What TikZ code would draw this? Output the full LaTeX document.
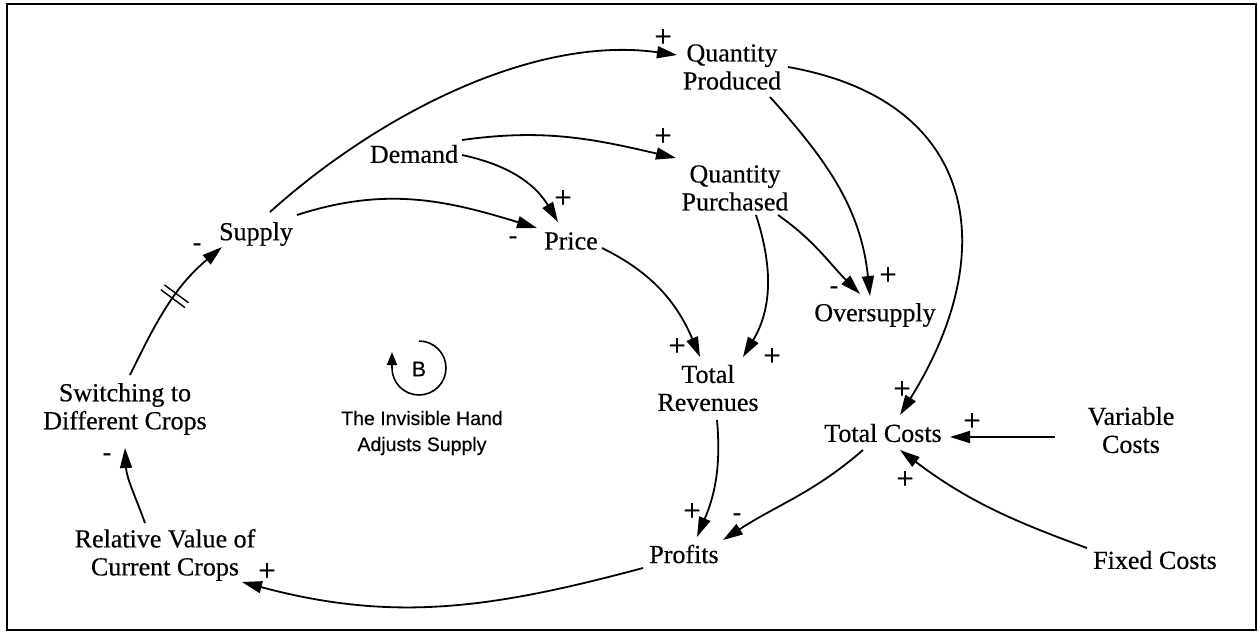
\documentclass[tikz,border=0pt]{standalone}
\usepackage{fontspec}
\setmainfont{Liberation Serif}[FakeBold=0.4]
\newfontfamily\handfont{Liberation Sans}[FakeBold=0.4]
\usetikzlibrary{arrows.meta,decorations.markings}
\begin{document}
\begin{tikzpicture}[x=1pt,y=1pt,
  var/.style={font=\fontsize{26}{28}\selectfont, align=center, inner sep=0pt},
  sgn/.style={font=\fontsize{26}{28}\selectfont, inner sep=0pt},
  psgn/.style={font=\fontsize{31}{32}\selectfont, inner sep=0pt},
  link/.style={line width=1.8pt, -{Triangle[length=20pt,width=12pt]}},
  delaymark/.style={postaction={decorate}, decoration={markings,
     mark=at position 0.57 with {\draw[line width=1.4pt,-] (-3,-15) -- (-3,15) (3,-15) -- (3,15);}}}
]
\useasboundingbox (0,0) rectangle (1258,-632);
\draw[line width=1.3pt] (7,-4) rectangle (1256,-630);

% variables
\node[var] (supply)  at (256,-234) {Supply};
\node[var] (demand)  at (414,-154) {Demand};
\node[var] (price)   at (571,-241) {Price};
\node[var] (qprod)   at (732,-67)  {Quantity\\Produced};
\node[var] (qpur)    at (735,-188) {Quantity\\Purchased};
\node[var] (over)    at (875,-315) {Oversupply};
\node[var] (trev)    at (708,-388) {Total\\Revenues};
\node[var] (tcost)   at (883,-433) {Total Costs};
\node[var] (varc)    at (1131,-430) {Variable\\Costs};
\node[var] (fixc)    at (1155,-560) {Fixed Costs};
\node[var] (profits) at (684,-554) {Profits};
\node[var] (relv)    at (165,-555) {Relative Value of\\Current Crops};
\node[var] (switch)  at (125,-409) {Switching to\\Different Crops};

% loop marker
\node[inner sep=0pt, font=\handfont\fontsize{21}{24}\selectfont] (loopb) at (419,-369) {B};
\node[inner sep=0pt, align=center, font=\handfont\fontsize{19.5}{26}\selectfont] (hand) at (422,-433) {The Invisible Hand\\Adjusts Supply};
\draw[line width=1.6pt, -{Triangle[length=13pt,width=10pt]}]
  ([yshift=28]loopb.center) arc[start angle=90, end angle=-180, radius=27] -- ++(0,16);

% links
\draw[link] ([shift={(14,22)}]supply.center) to[out=42,in=172,looseness=0.85] ([shift={(-55,12)}]qprod.center);
\draw[link] ([shift={(41,19)}]supply.center) to[out=18,in=163] ([shift={(-34,13)}]price.center);
\draw[link] ([shift={(48,-1)}]demand.center) to[out=-12,in=121] ([shift={(-13,19)}]price.center);
\draw[link] ([shift={(48,14)}]demand.center) to[out=8,in=167] ([shift={(-59,30)}]qpur.center);
\draw[link] ([shift={(38,-30)}]qprod.center) to[out=-48,in=96] ([shift={(-5,19)}]over.center);
\draw[link] ([shift={(43,-27)}]qpur.center) to[out=-35,in=135] ([shift={(-15,21)}]over.center);
\draw[link] ([shift={(56,0)}]qprod.center) to[out=-10,in=58,looseness=1.35] ([shift={(17,18)}]tcost.center);
\draw[link] ([shift={(31,-7)}]price.center) to[out=-26,in=113] ([shift={(-8,31)}]trev.center);
\draw[link] ([shift={(21,-27)}]qpur.center) to[out=-72,in=59] ([shift={(35,31)}]trev.center);
\draw[link] ([shift={(9,-32)}]trev.center) to[out=-85,in=67] ([shift={(13,17)}]profits.center);
\draw[link] ([shift={(-20,-17)}]tcost.center) to[out=-139,in=33] ([shift={(39,14)}]profits.center);
\draw[link] ([shift={(-76,-7)}]varc.center) -- ([shift={(67,-4)}]tcost.center);
\draw[link] ([shift={(-68,12)}]fixc.center) to[out=160,in=-37] ([shift={(17,-17)}]tcost.center);
\draw[link] ([shift={(-41,-14)}]profits.center) to[out=-165,in=-15] ([shift={(77,-27)}]relv.center);
\draw[link] ([shift={(-20,32)}]relv.center) to[out=110,in=-87] ([shift={(0,-39)}]switch.center);
\draw[link, delaymark] ([shift={(5,34)}]switch.center) to[out=64,in=-140] ([shift={(-34,-13)}]supply.center);

% polarities
\node[psgn] (s1)  at (663,-38)  {+};
\node[psgn] (s2)  at (663,-137) {+};
\node[psgn] (s3)  at (563,-199) {+};
\node[sgn]  (s4)  at (513,-240) {-};
\node[sgn]  (s5)  at (834,-290) {-};
\node[psgn] (s6)  at (888,-276) {+};
\node[psgn] (s7)  at (677,-347) {+};
\node[psgn] (s8)  at (772,-357) {+};
\node[psgn] (s9)  at (692,-512) {+};
\node[sgn]  (s10) at (737,-517) {-};
\node[psgn] (s11) at (902,-390) {+};
\node[psgn] (s12) at (972,-422) {+};
\node[psgn] (s13) at (905,-480) {+};
\node[psgn] (s14) at (267,-572) {+};
\node[sgn]  (s15) at (107,-457) {-};
\node[sgn]  (s16) at (197,-247) {-};
\end{tikzpicture}
\end{document}
